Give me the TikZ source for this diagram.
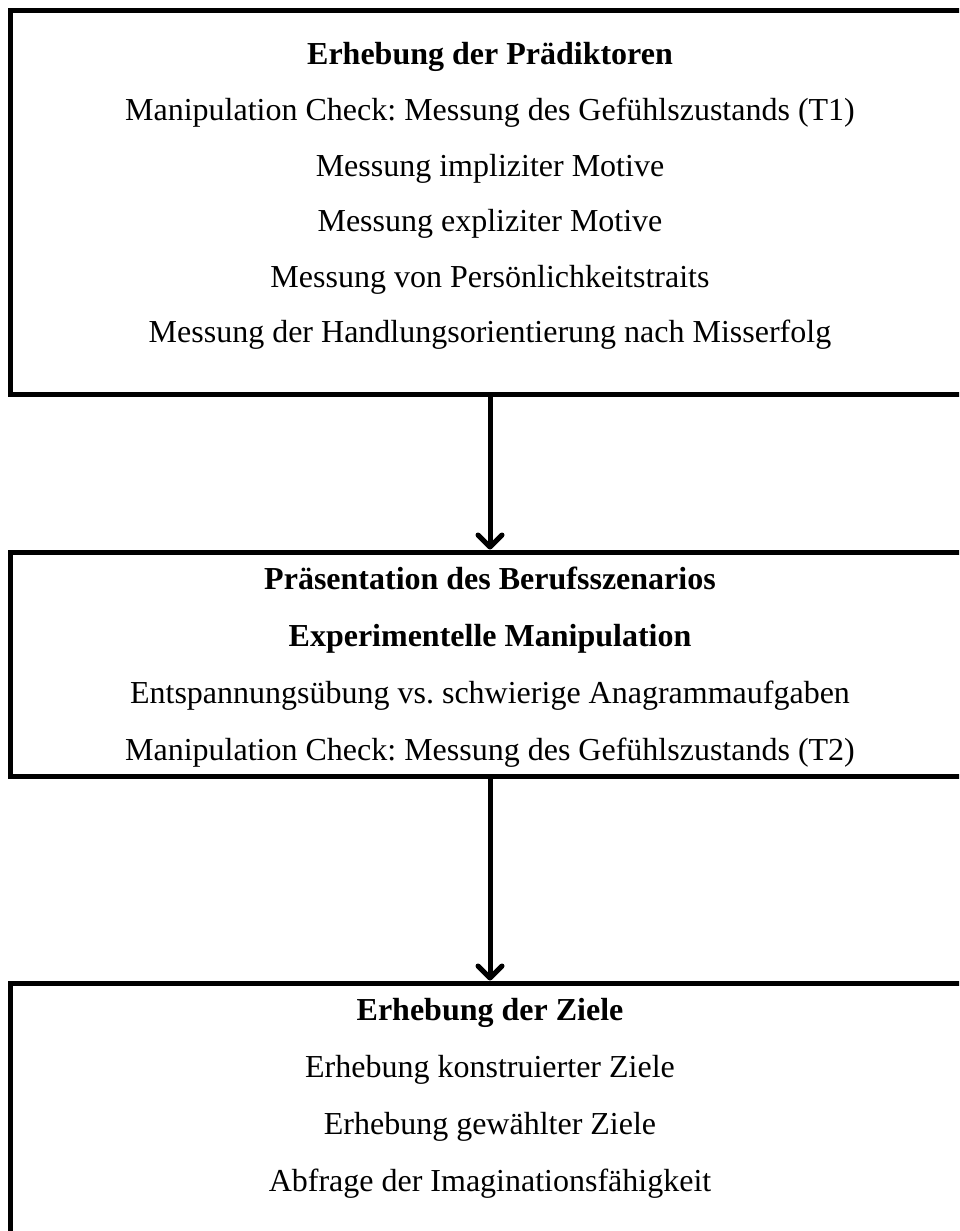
\documentclass[tikz,border=0pt]{standalone}
\usepackage{fontspec}
\setmainfont{Liberation Serif}
\frenchspacing
\usetikzlibrary{arrows.meta}
\tikzset{
  kasten/.style={draw,line width=5pt,minimum width=960pt,inner sep=0pt},
  zeile/.style={anchor=base,inner sep=0pt,font=\fontsize{32}{38}\selectfont},
  pfeil/.style={line width=5pt,-{Straight Barb[length=12pt,width=24pt,round]}}
}
\begin{document}
\begin{tikzpicture}[x=1pt,y=-1pt]
\useasboundingbox (0,0) rectangle (959,1231);
\clip (0,0) rectangle (959,1231);
% Kaesten
\node[kasten,minimum height=383.5] (praed) at (490,202.25) {};
\node[kasten,minimum height=224] (szen) at (490,664) {};
\node[kasten,minimum height=317] (ziele) at (490,1141.5) {};
% Texte
\foreach \txt [count=\i from 0] in {\textbf{Erhebung der Prädiktoren},
  Manipulation Check: Messung des Gefühlszustands (T1),
  Messung impliziter Motive,
  Messung expliziter Motive,
  Messung von Persönlichkeitstraits,
  Messung der Handlungsorientierung nach Misserfolg}
  \node[zeile] (praed\i) at (490,65+55.5*\i) {\txt};
\foreach \txt [count=\i from 0] in {\textbf{Präsentation des Berufsszenarios},
  \textbf{Experimentelle Manipulation},
  Entspannungsübung vs. schwierige Anagrammaufgaben,
  Manipulation Check: Messung des Gefühlszustands (T2)}
  \node[zeile] (szen\i) at (490,589+57*\i) {\txt};
\foreach \txt [count=\i from 0] in {\textbf{Erhebung der Ziele},
  Erhebung konstruierter Ziele,
  Erhebung gewählter Ziele,
  Abfrage der Imaginationsfähigkeit}
  \node[zeile] (ziele\i) at (490,1020+57*\i) {\txt};
% Pfeile
\draw[pfeil] (praed.south) -- (szen.north);
\draw[pfeil] (szen.south) -- (ziele.north);
\end{tikzpicture}
\end{document}
